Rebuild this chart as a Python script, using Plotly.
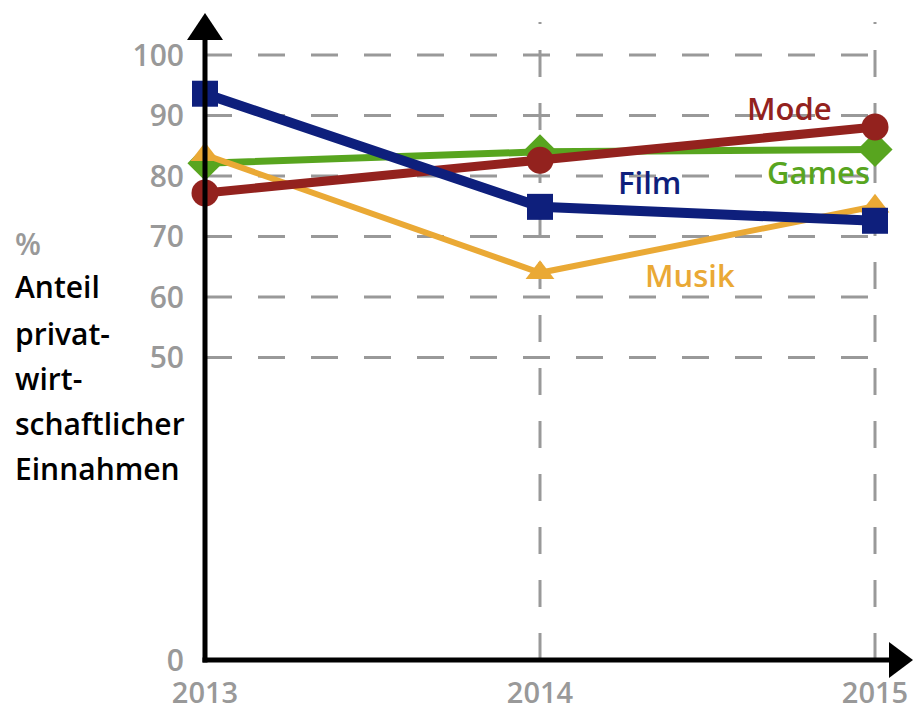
import plotly.graph_objects as go

years = [2013, 2014, 2015]
film = [93.6, 74.9, 72.6]
mode = [77.2, 82.6, 88.1]
games = [82.1, 84.0, 84.4]
musik = [83.5, 64.0, 75.0]

y_ticks = [0, 50, 60, 70, 80, 90, 100]
grid_vals = [50, 60, 70, 80, 90, 100]
title_lines = ["%", "Anteil", "privat-", "wirt-", "schaftlicher", "Einnahmen"]

FONT = "Open Sans"
GRAY = "#999999"

W, H = 913, 706
ML, MR, MT, MB = 205, 3, 15, 46
PW, PH = W - ML - MR, H - MT - MB

series = [
    ("Games", games, "#58a51f", 7, "diamond", 27),
    ("Musik", musik, "#eaa935", 6, "triangle-up", 25),
    ("Mode", mode, "#93221e", 9, "circle", 27),
    ("Film", film, "#0e1f7c", 10, "square", 26),
]

fig = go.Figure()
for name, vals, col, lw, sym, ms in series:
    fig.add_trace(go.Scatter(
        x=years, y=vals, mode="lines+markers", name=name,
        line=dict(color=col, width=lw),
        marker=dict(symbol=sym, size=ms, color=col, line=dict(width=0)),
        cliponaxis=False, showlegend=False, hoverinfo="skip",
    ))


def px_x(p):
    return (p - ML) / PW


def px_y(p):
    return (H - MB - p) / PH


shapes = []
# horizontal dashed grid
for g in grid_vals:
    shapes.append(dict(type="line", xref="x", yref="y", x0=2013, x1=2015.05, y0=g, y1=g,
                       line=dict(color=GRAY, width=3, dash="27px,26px"), layer="below"))
# vertical dashed grid
for yr in years[1:]:
    shapes.append(dict(type="line", xref="x", yref="paper", x0=yr, x1=yr, y0=0, y1=px_y(22),
                       line=dict(color=GRAY, width=3, dash="27px,26px"), layer="below"))

# axes lines
shapes.append(dict(type="line", xref="paper", yref="paper", x0=0, x1=0,
                   y0=px_y(662.5), y1=px_y(38), line=dict(color="black", width=5)))
shapes.append(dict(type="line", xref="paper", yref="paper", x0=px_x(202.5), x1=px_x(892),
                   y0=0, y1=0, line=dict(color="black", width=5)))
# arrow heads
shapes.append(dict(type="path", xref="paper", yref="paper",
                   path=f"M {px_x(187)},{px_y(40)} L {px_x(205)},{px_y(13)} L {px_x(223)},{px_y(40)} Z",
                   fillcolor="black", line=dict(width=0)))
shapes.append(dict(type="path", xref="paper", yref="paper",
                   path=f"M {px_x(889)},{px_y(642)} L {px_x(913)},{px_y(660)} L {px_x(889)},{px_y(678)} Z",
                   fillcolor="black", line=dict(width=0)))

annotations = []
labels = [
    ("Mode", 2014.746, 91.2, "#93221e"),
    ("Games", 2014.83, 80.7, "#58a51f"),
    ("Film", 2014.328, 79.0, "#0e1f7c"),
    ("Musik", 2014.448, 63.6, "#eaa935"),
]
for t, x, y, c in labels:
    annotations.append(dict(text=t, x=x, y=y, xref="x", yref="y", showarrow=False,
                            font=dict(family=FONT, size=31, color=c, weight=600),
                            xanchor="center", yanchor="middle"))

title_y = [243, 286, 333, 378, 423, 468]
for i, (t, py) in enumerate(zip(title_lines, title_y)):
    annotations.append(dict(text=t, x=px_x(13), y=px_y(py), xref="paper", yref="paper",
                            showarrow=False, xanchor="left", yanchor="middle",
                            font=dict(family=FONT, size=30, weight=600,
                                      color=GRAY if i == 0 else "black")))

fig.update_layout(
    template="none",
    width=W, height=H,
    margin=dict(l=ML, r=MR, t=MT, b=MB, pad=0, autoexpand=False),
    paper_bgcolor="white", plot_bgcolor="white",
    font=dict(family=FONT),
    shapes=shapes, annotations=annotations,
    hovermode=False,
    xaxis=dict(range=[2013, 2013 + PW / 335.0], tickvals=years, ticktext=[str(y) for y in years],
               showgrid=False, zeroline=False, showline=False, fixedrange=True, automargin=False,
               ticks="outside", ticklen=7, tickcolor="rgba(0,0,0,0)",
               tickfont=dict(family=FONT, size=29, color=GRAY, weight=600)),
    yaxis=dict(range=[0, PH / 6.05], tickvals=y_ticks, ticktext=[str(v) for v in y_ticks],
               showgrid=False, zeroline=False, showline=False, fixedrange=True, automargin=False,
               ticks="outside", ticklen=14, tickcolor="rgba(0,0,0,0)",
               tickfont=dict(family=FONT, size=30, color=GRAY, weight=600)),
)

fig.write_html(
    "out.html",
    config={"displayModeBar": False, "staticPlot": True},
    post_script=(
        "var s=document.createElement('style');"
        "s.textContent='html,body{margin:0;padding:0;overflow:hidden;height:706px;width:913px;}';"
        "document.head.appendChild(s);"
    ),
)
